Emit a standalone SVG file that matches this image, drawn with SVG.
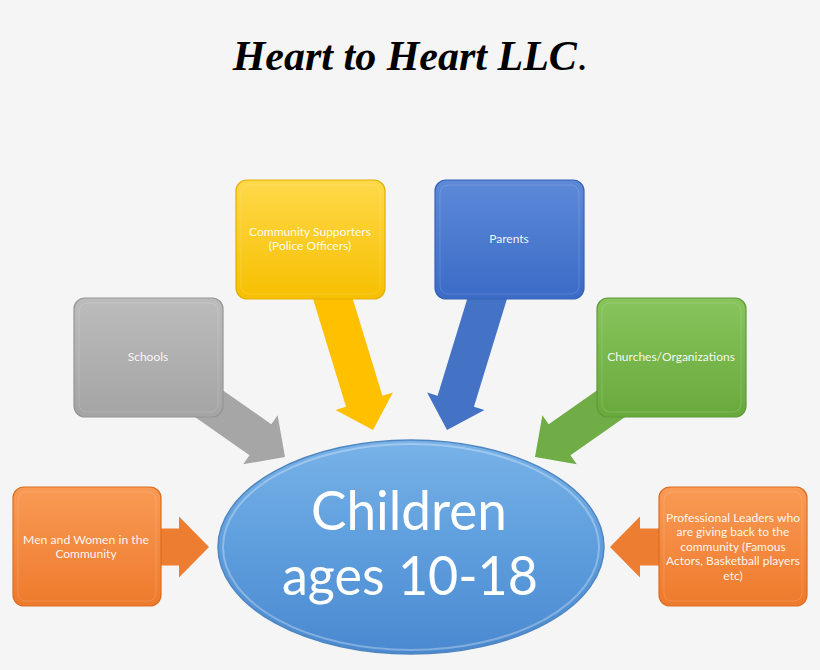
<svg xmlns="http://www.w3.org/2000/svg" width="820" height="670" viewBox="0 0 820 670">
<defs>
<linearGradient id="gY" x1="0" y1="0" x2="0" y2="1"><stop offset="0" stop-color="#ffd94a"/><stop offset="1" stop-color="#f6bf00"/></linearGradient>
<linearGradient id="gG" x1="0" y1="0" x2="0" y2="1"><stop offset="0" stop-color="#bcbcbc"/><stop offset="1" stop-color="#a4a4a4"/></linearGradient>
<linearGradient id="gB" x1="0" y1="0" x2="0" y2="1"><stop offset="0" stop-color="#5d89d8"/><stop offset="1" stop-color="#3a6bc6"/></linearGradient>
<linearGradient id="gN" x1="0" y1="0" x2="0" y2="1"><stop offset="0" stop-color="#88c45c"/><stop offset="1" stop-color="#68a93c"/></linearGradient>
<linearGradient id="gO" x1="0" y1="0" x2="0" y2="1"><stop offset="0" stop-color="#f99a55"/><stop offset="1" stop-color="#ee7a2c"/></linearGradient>
<linearGradient id="gE" x1="0" y1="0" x2="0" y2="1"><stop offset="0" stop-color="#78b2e8"/><stop offset="0.5" stop-color="#5e9edd"/><stop offset="1" stop-color="#4a89d0"/></linearGradient>
<linearGradient id="hl" x1="0" y1="0" x2="0" y2="1"><stop offset="0" stop-color="#ffffff" stop-opacity="0.1"/><stop offset="0.5" stop-color="#ffffff" stop-opacity="0.7"/><stop offset="1" stop-color="#ffffff" stop-opacity="0.1"/></linearGradient>
</defs>
<style>
.box{stroke-width:1.2}
.inner{fill:none;stroke:#ffffff;stroke-opacity:0.15;stroke-width:1}
.lbl{font-family:"Lato","Noto Sans",sans-serif;font-size:12px;fill:#ffffff;fill-opacity:0.93;text-anchor:middle}
.side{stroke:url(#hl);stroke-width:2.5;fill:none}
.big{font-family:Lato,"Noto Sans",sans-serif;font-size:54px;fill:#ffffff;text-anchor:middle}
</style>
<rect width="820" height="670" fill="#f5f5f5"/>
<text x="410" y="70" text-anchor="middle" font-family="'Liberation Serif','Times New Roman',serif" font-size="42" font-weight="bold" font-style="italic" fill="#000">Heart to Heart LLC<tspan font-weight="normal" font-style="normal">.</tspan></text>

<g id="connectors">
<path transform="translate(285,457) rotate(35)" d="M-125,-19 L-30,-19 L-30,-30 L0,0 L-30,30 L-30,19 L-125,19 Z" fill="#a6a6a6"/>
<path transform="translate(373,430) rotate(73)" d="M-180,-19 L-30,-19 L-30,-30 L0,0 L-30,30 L-30,19 L-180,19 Z" fill="#ffc000"/>
<path transform="translate(447,430) rotate(107)" d="M-180,-19 L-30,-19 L-30,-30 L0,0 L-30,30 L-30,19 L-180,19 Z" fill="#4472c4"/>
<path transform="translate(535,457) rotate(145)" d="M-125,-19 L-30,-19 L-30,-30 L0,0 L-30,30 L-30,19 L-125,19 Z" fill="#70ad47"/>
<path transform="translate(209,547)" d="M-80,-18.5 L-30,-18.5 L-30,-30.5 L0,0 L-30,30.5 L-30,18.5 L-80,18.5 Z" fill="#ed7d31"/>
<path transform="translate(610,547) rotate(180)" d="M-80,-18.5 L-30,-18.5 L-30,-30.5 L0,0 L-30,30.5 L-30,18.5 L-80,18.5 Z" fill="#ed7d31"/>
</g>

<g id="schools">
<rect class="box" x="74" y="298" width="149" height="119" rx="11" fill="url(#gG)" stroke="#959595"/>
<rect class="inner" x="79" y="303" width="139" height="109" rx="8"/>
<line class="side" x1="80" y1="310" x2="80" y2="405"/><line class="side" x1="217" y1="310" x2="217" y2="405"/>
<text class="lbl" x="148" y="361">Schools</text>
</g>

<g id="community-supporters">
<rect class="box" x="236" y="180" width="149" height="119" rx="11" fill="url(#gY)" stroke="#e2b000"/>
<rect class="inner" x="241" y="185" width="139" height="109" rx="8"/>
<line class="side" x1="242" y1="192" x2="242" y2="287"/><line class="side" x1="379" y1="192" x2="379" y2="287"/>
<text class="lbl" x="310" y="236">Community Supporters</text>
<text class="lbl" x="310" y="250">(Police Officers)</text>
</g>

<g id="parents">
<rect class="box" x="435" y="180" width="149" height="119" rx="11" fill="url(#gB)" stroke="#3562b4"/>
<rect class="inner" x="440" y="185" width="139" height="109" rx="8"/>
<line class="side" x1="441" y1="192" x2="441" y2="287"/><line class="side" x1="578" y1="192" x2="578" y2="287"/>
<text class="lbl" x="509" y="243">Parents</text>
</g>

<g id="churches">
<rect class="box" x="597" y="298" width="149" height="119" rx="11" fill="url(#gN)" stroke="#5f9c36"/>
<rect class="inner" x="602" y="303" width="139" height="109" rx="8"/>
<line class="side" x1="603" y1="310" x2="603" y2="405"/><line class="side" x1="740" y1="310" x2="740" y2="405"/>
<text class="lbl" x="671" y="361">Churches/Organizations</text>
</g>

<g id="men-women">
<rect class="box" x="13" y="487" width="148" height="119" rx="11" fill="url(#gO)" stroke="#dc6c22"/>
<rect class="inner" x="18" y="492" width="138" height="109" rx="8"/>
<line class="side" x1="19" y1="499" x2="19" y2="594"/><line class="side" x1="155" y1="499" x2="155" y2="594"/>
<text class="lbl" x="86" y="544" textLength="126" lengthAdjust="spacingAndGlyphs">Men and Women in the</text>
<text class="lbl" x="86" y="558">Community</text>
</g>

<g id="professional-leaders">
<rect class="box" x="659" y="487" width="148" height="119" rx="11" fill="url(#gO)" stroke="#dc6c22"/>
<rect class="inner" x="664" y="492" width="138" height="109" rx="8"/>
<line class="side" x1="665" y1="499" x2="665" y2="594"/><line class="side" x1="801" y1="499" x2="801" y2="594"/>
<text class="lbl" x="733" y="522" textLength="134" lengthAdjust="spacingAndGlyphs">Professional Leaders who</text>
<text class="lbl" x="733" y="536">are giving back to the</text>
<text class="lbl" x="733" y="551">community (Famous</text>
<text class="lbl" x="733" y="565" textLength="134" lengthAdjust="spacingAndGlyphs">Actors, Basketball players</text>
<text class="lbl" x="733" y="580">etc)</text>
</g>

<g id="children">
<ellipse cx="411" cy="547" rx="193" ry="107" fill="url(#gE)" stroke="#4f86c0" stroke-width="1.5"/>
<ellipse cx="411" cy="547" rx="188" ry="103" fill="none" stroke="#ffffff" stroke-opacity="0.3" stroke-width="2"/>
<text class="big" x="409" y="530" textLength="196" lengthAdjust="spacingAndGlyphs">Children</text>
<text class="big" x="410" y="595" textLength="256" lengthAdjust="spacingAndGlyphs">ages 10-18</text>
</g>
</svg>
